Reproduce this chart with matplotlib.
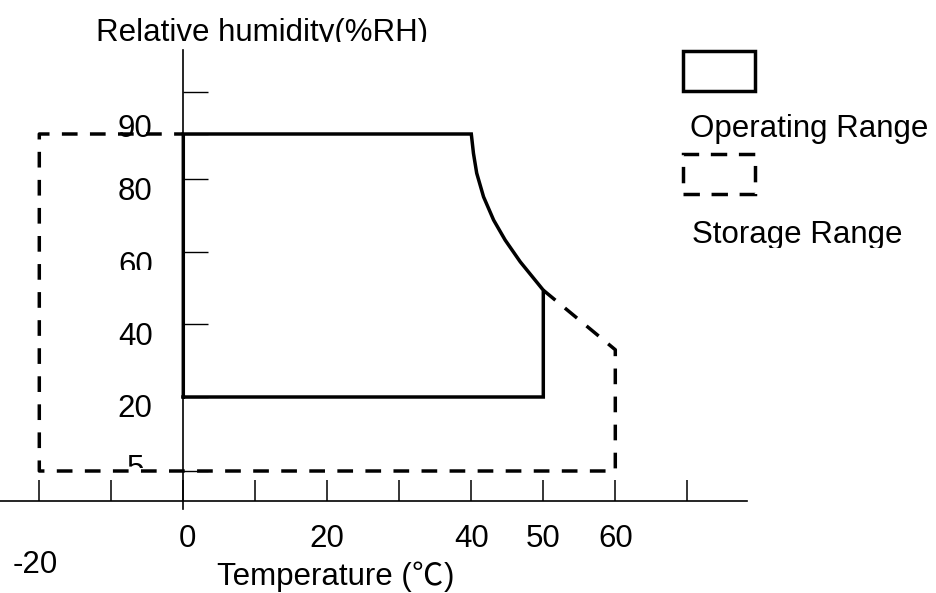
import numpy as np
import matplotlib
matplotlib.use('Agg')
import matplotlib.pyplot as plt
from matplotlib.patches import Rectangle
from matplotlib.ticker import NullLocator
from matplotlib.transforms import Bbox, TransformedBbox

# ---------------- data ----------------
x_ticks = [-20, -10, 0, 10, 20, 30, 40, 50, 60, 70]
x_labels = ['-20', '', '0', '', '20', '', '40', '50', '60', '']
y_ticks = [5, 20, 40, 60, 80, 90, 100]
y_labels = ['5', '20', '40', '60', '80', '90', '']

# Operating range outline (temperature degC, humidity %RH)
op_temp = [0, 0, 40, 40.3, 40.75, 41.7, 43.1, 44.7, 46.8, 50, 50, 0]
op_hum = [20, 90, 90, 85.7, 81.3, 75.1, 68.7, 63.2, 57.2, 49.4, 20, 20]

# Storage range outline (part not shared with the operating range)
st_temp = [50, 60, 60, -20, -20, 0]
st_hum = [49.4, 33, 5, 5, 90, 90]

x_title_parts = ['Temperature (', '\u2103', ')']
y_title = 'Relative humidity(%RH)'
legend_labels = ['Operating Range', 'Storage Range']

# ---------------- layout ----------------
W, H = 936, 593
DPI = 100
plt.rcParams['lines.scale_dashes'] = False
FONT = ['Liberation Sans', 'Noto Sans CJK SC', 'DejaVu Sans']
CJK_FONT = ['Noto Sans CJK SC', 'DejaVu Sans']
FS = 22.5
LW = 2.5
DASH = (0, (11.3, 8.9))

# schematic (non-linear) humidity axis as drawn in the original
hum_anchor = np.array([-20, 5, 20, 80, 90, 100, 140], dtype=float)
px_anchor = np.array([594, 471, 397, 179, 134, 92, -76], dtype=float)


def fwd(v):
    return -np.interp(v, hum_anchor, px_anchor)


def inv(q):
    return np.interp(q, -px_anchor, hum_anchor)


X0_PX, X_SCALE = 183.3, 7.2   # pixel of 0 degC, pixels per degC
AX_LEFT, AX_RIGHT, AX_TOP, AX_BOTTOM = 0.0, 747.3, 50.0, 501.0

fig = plt.figure(figsize=(W / DPI, H / DPI), dpi=DPI)
ax = fig.add_axes([AX_LEFT / W, 1 - AX_BOTTOM / H,
                   (AX_RIGHT - AX_LEFT) / W, (AX_BOTTOM - AX_TOP) / H])
ax.set_facecolor('none')
ax.set_yscale('function', functions=(fwd, inv))
ax.set_xlim((AX_LEFT - X0_PX) / X_SCALE, (AX_RIGHT - X0_PX) / X_SCALE)
ax.set_ylim(inv(-AX_BOTTOM), inv(-AX_TOP))

for s in ['top', 'right']:
    ax.spines[s].set_visible(False)
ax.spines['left'].set_position(('data', 0))
ax.spines['left'].set_bounds(inv(-509.3), inv(-AX_TOP))
ax.spines['left'].set_linewidth(1.2)
ax.spines['bottom'].set_linewidth(1.2)

ax.set_xticks(x_ticks)
ax.set_yticks(y_ticks)
ax.yaxis.set_minor_locator(NullLocator())
ax.xaxis.set_minor_locator(NullLocator())
ax.tick_params(axis='x', direction='in', length=15, width=1.1, labelbottom=False)
ax.tick_params(axis='y', direction='in', length=18, width=1.0, labelleft=False)

# ranges
ax.plot(st_temp, st_hum, color='black', lw=LW, linestyle=DASH,
        solid_joinstyle='miter', dash_capstyle='butt', clip_on=False)
ax.plot(op_temp, op_hum, color='black', lw=LW, solid_joinstyle='miter',
        clip_on=False)


def clip_below(t, ypx):
    t.set_clip_path(None)
    t.set_clip_box(TransformedBbox(Bbox.from_extents(0, 1 - ypx / H, 1, 1),
                                   fig.transFigure))
    t.set_clip_on(True)


# x tick labels
x_label_off = {'-20': (-4, -72.3), '0': (4, -45.7)}
for v, lab in zip(x_ticks, x_labels):
    if not lab:
        continue
    dx, dy = x_label_off.get(lab, (0, -45.7))
    ax.annotate(lab, xy=(v, 0), xycoords=('data', 'axes fraction'),
                xytext=(dx, dy), textcoords='offset pixels',
                ha='center', va='baseline', fontsize=FS, family=FONT,
                annotation_clip=False)

# y tick labels (placed as in the original drawing)
y_label_dy = {'90': 2.7, '80': 21, '60': 22, '40': 21, '20': 19.7, '5': 6}
y_label_clip = {'60': 270, '5': 467.5}
for v, lab in zip(y_ticks, y_labels):
    if not lab:
        continue
    t = ax.annotate(lab, xy=(0, v), xycoords='data',
                    xytext=(-48, -y_label_dy[lab]), textcoords='offset pixels',
                    ha='center', va='baseline', fontsize=FS, family=FONT,
                    annotation_clip=False)
    if lab in y_label_clip:
        clip_below(t, y_label_clip[lab])

# axis titles
t = fig.text(96 / W, 1 - 40.7 / H, y_title, ha='left', va='baseline',
             fontsize=FS, family=FONT)
clip_below(t, 41.7)

renderer = fig.canvas.get_renderer()
xpos = 216.7
for i, part in enumerate(x_title_parts):
    fam = CJK_FONT if part == '\u2103' else FONT
    tt = fig.text(xpos / W, 1 - 585.5 / H, part, ha='left', va='baseline',
                  fontsize=FS, family=fam)
    bb = tt.get_window_extent(renderer=renderer)
    xpos += bb.width + (1.5 if part == '\u2103' else 0)

# legend
def px_rect(x0, y0, x1, y1, **kw):
    r = Rectangle((x0 / W, 1 - y1 / H), (x1 - x0) / W, (y1 - y0) / H,
                  transform=fig.transFigure, fill=False, edgecolor='black',
                  lw=LW, joinstyle='miter', **kw)
    fig.add_artist(r)


px_rect(683.3, 50.7, 755.0, 90.7)
px_rect(683.3, 154.3, 755.0, 194.0, linestyle=(0, (11.8, 8.4)))
fig.text(690.5 / W, 1 - 137 / H, legend_labels[0], ha='left', va='baseline',
         fontsize=FS, family=FONT)
t = fig.text(691.5 / W, 1 - 243.3 / H, legend_labels[1], ha='left',
             va='baseline', fontsize=FS, family=FONT)
clip_below(t, 248.3)

fig.savefig('out.png', dpi=DPI, facecolor='white')
